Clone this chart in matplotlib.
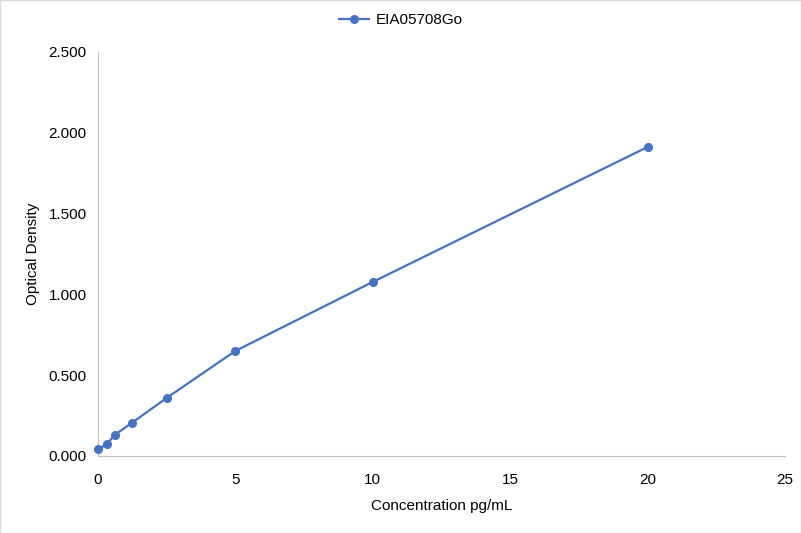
"""Standard curve plot"""

import matplotlib
matplotlib.use("Agg")
import matplotlib.pyplot as plt
from matplotlib.ticker import FormatStrFormatter

concentration = [0, 0.3125, 0.625, 1.25, 2.5, 5, 10, 20]
optical_density = [0.041, 0.072, 0.132, 0.207, 0.359, 0.650, 1.077, 1.912]
series_name = "EIA05708Go"

plt.rcParams['font.family'] = ['Liberation Sans', 'DejaVu Sans']

fig = plt.figure(figsize=(8.01, 5.33), dpi=100)
ax = fig.add_axes([0.1223, 0.1445, 0.8577, 0.758])

ax.plot(concentration, optical_density, color="#4472C4", linewidth=1.6,
        marker="o", markersize=5.5, label=series_name, clip_on=False, zorder=3)

ax.set_xlim(0, 25)
ax.set_ylim(0, 2.5)
ax.set_xticks([0, 5, 10, 15, 20, 25])
ax.set_yticks([0, 0.5, 1.0, 1.5, 2.0, 2.5])
ax.yaxis.set_major_formatter(FormatStrFormatter('%.3f'))

for side in ["top", "right"]:
    ax.spines[side].set_visible(False)
for side in ["left", "bottom"]:
    ax.spines[side].set_color("#BFBFBF")
ax.tick_params(axis="x", length=0, labelsize=11, pad=12)
ax.tick_params(axis="y", length=0, labelsize=11, pad=8)

ax.set_xlabel("Concentration pg/mL", fontsize=11, labelpad=9)
ax.set_ylabel("Optical Density", fontsize=11, labelpad=6)

fig.legend(loc="center", bbox_to_anchor=(0.5, 0.962), frameon=False,
           fontsize=11, handlelength=2.0, handletextpad=0.4)

fig.patches.append(plt.Rectangle((0, 0), 1, 1, transform=fig.transFigure,
                                 fill=False, edgecolor="#D9D9D9", linewidth=1))

fig.savefig("out.png", dpi=100)
